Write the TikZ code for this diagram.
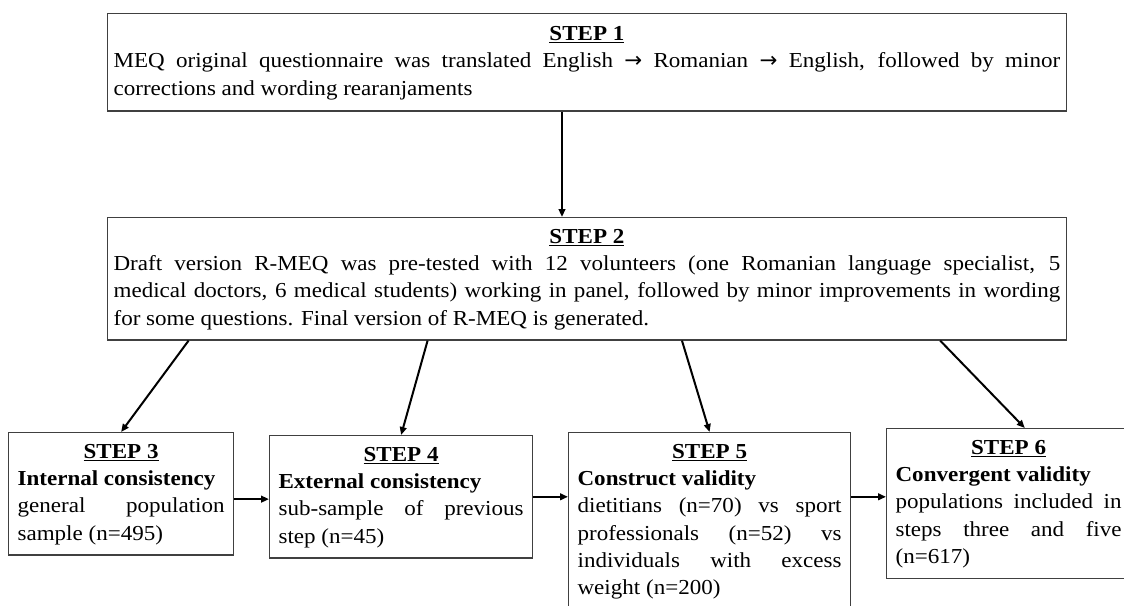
\documentclass[tikz,border=0pt]{standalone}
\usepackage{fontspec}
\setmainfont[FakeStretch=1.08]{Liberation Serif}
\newfontfamily\arrowfont{DejaVu Sans}
\usepackage{tikz}
\usetikzlibrary{arrows.meta,calc}
\definecolor{boxgray}{HTML}{404040}
\newcommand{\stephead}[1]{{\centering\strut\textbf{\underline{STEP #1}}\par}}
\newcommand{\toarrow}{{\arrowfont →}}

\begin{document}
\begin{tikzpicture}[
    x=0.75pt, y=-0.75pt,
    stepbox/.style={rectangle, draw=boxgray, line width=0.9pt, anchor=north west,
                    align=justify, inner xsep=6.75pt, inner ysep=4.9pt,
                    font={\fontsize{16}{20.5}\selectfont\parindent=0pt}},
    arr/.style={-{Triangle[length=6pt,width=5pt]}, line width=1.5pt}
]
\useasboundingbox (0,0) rectangle (1124,606);
\clip (0,0) rectangle (1124,606);

% top row
\node[stepbox, text width=710pt, inner xsep=4.5pt, inner ysep=5.8pt] (s1) at (107,13)
    {\stephead{1}MEQ original questionnaire was translated English \toarrow{} Romanian \toarrow{} English, followed by minor\linebreak
     corrections and wording rearanjaments\strut};
\node[stepbox, text width=710pt, inner xsep=4.5pt, minimum height=90.75pt] (s2) at (107,217)
    {\stephead{2}Draft version R-MEQ was pre-tested with 12 volunteers (one Romanian language specialist, 5\linebreak
     medical doctors, 6 medical students) working in panel, followed by minor improvements in wording\linebreak
     for some questions. Final version of R-MEQ is generated.\strut};

% bottom row
\node[stepbox, text width=155.25pt] (s3) at (8,432)
    {\stephead{3}\textbf{Internal consistency}\par
     general population\linebreak sample (n=495)\strut};
\node[stepbox, text width=183.75pt] (s4) at (269,435)
    {\stephead{4}\textbf{External consistency}\par
     sub-sample of previous\linebreak step (n=45)\strut};
\node[stepbox, text width=198pt] (s5) at (568,432)
    {\stephead{5}\textbf{Construct validity}\par
     dietitians (n=70) vs sport\linebreak professionals (n=52) vs\linebreak
     individuals with excess\linebreak weight (n=200)\strut\par\vspace{6pt}};
\node[stepbox, text width=169.5pt] (s6) at (886,428)
    {\stephead{6}\textbf{Convergent validity}\par
     populations included in\linebreak steps three and five\linebreak (n=617)\strut};

\coordinate (a12) at ($(s1.south west)!0.474!(s1.south east)$);
\draw[arr] (a12) -- (a12 |- s2.north);

\foreach \f/\t in {0.085/s3, 0.334/s4, 0.599/s5}
    \draw[arr] ($(s2.south west)!\f!(s2.south east)$) -- (\t.north);
\draw[arr] ($(s2.south west)!0.868!(s2.south east)$) -- ($(s6.north west)!0.566!(s6.north east)$);

\draw[arr] ([yshift=-4pt]s3.east) -- ([yshift=-4pt]s3.east -| s4.west);
\draw[arr] (s4.east) -- (s4.east -| s5.west);
\draw[arr] (s5.east |- s4.east) -- (s6.west |- s4.east);
\end{tikzpicture}
\end{document}
